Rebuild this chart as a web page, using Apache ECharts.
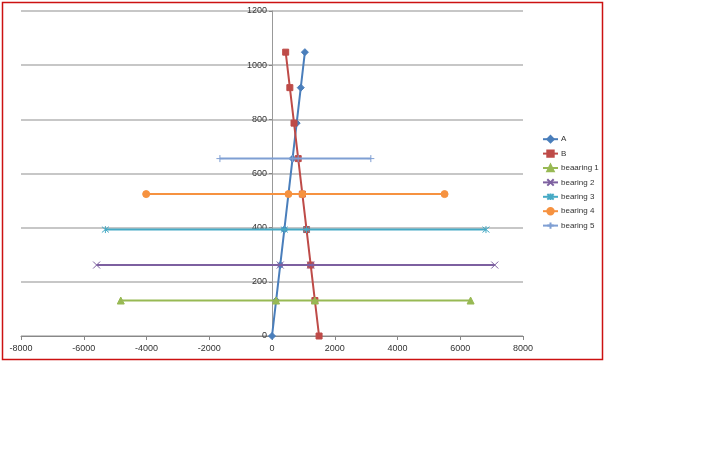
<!DOCTYPE html>
<html>
<head>
<meta charset="utf-8">
<script src="https://cdn.jsdelivr.net/npm/echarts@6/dist/echarts.min.js"></script>
<style>html,body{margin:0;padding:0;background:#fff;}#c{width:720px;height:450px;}</style>
</head>
<body>
<div id="c"></div>
<script>
// ---- data ----
const seriesNames = ['A', 'B', 'beaaring 1', 'bearing 2', 'bearing 3', 'bearing 4', 'bearing 5'];
const levelsY = [0, 131, 262, 393, 524, 655, 786, 917, 1048];
const aX = [0, 131, 262, 393, 524, 655, 786, 917, 1048];
const bX = [1500, 1367, 1234, 1101, 968, 835, 702, 569, 436];
const bearing1X = [-4820, 131, 1367, 6330];
const bearing1Y = [131, 131, 131, 131];
const bearing2X = [-5590, 262, 1234, 7100];
const bearing2Y = [262, 262, 262, 262];
const bearing3X = [-5310, 393, 1101, 6820];
const bearing3Y = [393, 393, 393, 393];
const bearing4X = [-4010, 524, 968, 5500];
const bearing4Y = [524, 524, 524, 524];
const bearing5X = [-1660, 655, 835, 3150];
const bearing5Y = [655, 655, 655, 655];
const xTicks = [-8000, -6000, -4000, -2000, 0, 2000, 4000, 6000, 8000];
const yTicks = [0, 200, 400, 600, 800, 1000, 1200];

// ---- styles ----
const colors = ['#4a7ebb', '#be4b48', '#98b954', '#7d60a0', '#46aac5', '#f69240', '#7f9fd3'];
const X_PATH = 'path://M0,0L10,10M10,0L0,10';
const STAR_PATH = 'path://M0,0L10,10M10,0L0,10M5,-1L5,11';
const PLUS_PATH = 'path://M5,0L5,10M0,5L10,5';
const symbols = ['diamond', 'rect', 'triangle', X_PATH, STAR_PATH, 'circle', PLUS_PATH];
const symbolSizes = [7, 6, 7, 7, 7, 7, 7];

function pairs(xs, ys) { return xs.map((x, i) => [x, ys[i]]); }
const dataSets = [
  pairs(aX, levelsY),
  pairs(bX, levelsY),
  pairs(bearing1X, bearing1Y),
  pairs(bearing2X, bearing2Y),
  pairs(bearing3X, bearing3Y),
  pairs(bearing4X, bearing4Y),
  pairs(bearing5X, bearing5Y)
];

const chart = echarts.init(document.getElementById('c'));
const font = 'Liberation Sans, Arial, sans-serif';
const GRID_LEFT = 21, GRID_RIGHT = 197;
const plotW = 720 - GRID_LEFT - GRID_RIGHT;
const zeroOffset = -plotW * (0 - xTicks[0]) / (xTicks[xTicks.length - 1] - xTicks[0]);
chart.setOption({
  animation: false,
  backgroundColor: '#fff',
  grid: { left: GRID_LEFT, right: GRID_RIGHT, top: 11, bottom: 114, containLabel: false, outerBoundsMode: 'none' },
  xAxis: {
    type: 'value', min: xTicks[0], max: xTicks[xTicks.length - 1], interval: 2000,
    axisLine: { onZero: false, lineStyle: { color: '#888', width: 1 } },
    axisTick: { show: true, length: 4, lineStyle: { color: '#888' } },
    axisLabel: { color: '#333', fontSize: 9, fontFamily: font, margin: 8, formatter: v => String(v) },
    splitLine: { show: false }
  },
  yAxis: {
    type: 'value', min: yTicks[0], max: yTicks[yTicks.length - 1], interval: 200,
    position: 'left', offset: zeroOffset,
    axisLine: { onZero: false, lineStyle: { color: '#999', width: 1 } },
    axisTick: { show: true, length: 3, lineStyle: { color: '#888' } },
    axisLabel: { color: '#333', fontSize: 9, fontFamily: font, margin: 5, formatter: v => String(v) },
    splitLine: { show: true, lineStyle: { color: '#b4b4b4', width: 1.5 } }
  },
  legend: {
    orient: 'vertical', left: 542, top: 135, padding: 0,
    itemWidth: 15, itemHeight: 8, itemGap: 6,
    textStyle: { fontSize: 8, fontFamily: font, color: '#333', padding: [0, 0, 0, -2] },
    data: seriesNames
  },
  series: seriesNames.map((name, i) => ({
    name: name, type: 'line', data: dataSets[i],
    symbol: symbols[i], symbolSize: symbolSizes[i], showSymbol: true,
    color: colors[i],
    lineStyle: { color: colors[i], width: 2 },
    itemStyle: { color: colors[i], borderColor: colors[i], borderWidth: 1 },
    z: 2 + i
  })),
  graphic: [{
    type: 'rect', silent: true,
    shape: { x: 2.5, y: 2.5, width: 600, height: 357 },
    style: { fill: 'none', stroke: '#cc1111', lineWidth: 1.5 }
  }]
});
</script>
</body>
</html>
